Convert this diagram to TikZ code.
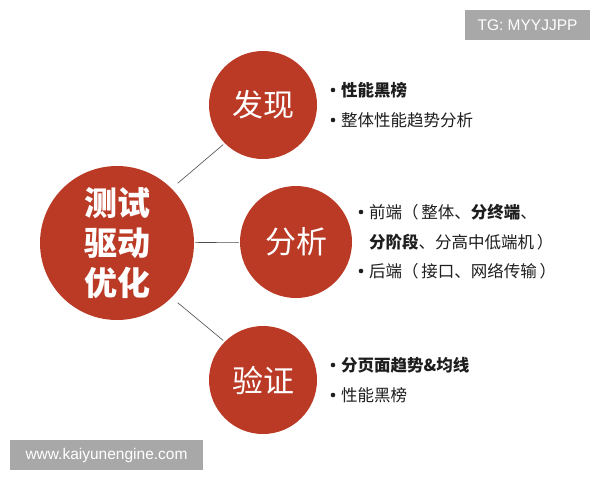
\documentclass[tikz,border=0pt]{standalone}
\usepackage{fontspec}
\setmainfont{Liberation Sans}
\newfontfamily\cjk{Noto Sans CJK SC}
\definecolor{brick}{RGB}{186,58,38}
\definecolor{wmgray}{RGB}{168,168,168}
\definecolor{txt}{RGB}{30,30,30}
\begin{document}
\begin{tikzpicture}[x=1pt,y=-1pt,
  bigc/.style={circle,fill=brick,inner sep=0pt,minimum size=154pt,text=white,font=\cjk\bfseries\fontsize{33}{40}\selectfont,align=center},
  smallc/.style={circle,fill=brick,inner sep=0pt,minimum size=108pt,text=white,font=\cjk\fontsize{31}{36}\selectfont},
  link/.style={draw=black!70,line width=0.6pt},
  item/.style={anchor=west,inner sep=0pt,text=txt,font=\cjk\fontsize{16.5}{30}\selectfont},
  dot/.style={circle,fill=txt,inner sep=0pt,minimum size=4.6pt},
  wm/.style={fill=wmgray,text=white,inner sep=0pt,font=\fontsize{15.5}{18}\selectfont}
]
\useasboundingbox (0,0) rectangle (600,480);
\fill[white] (0,0) rectangle (600,480);

\node[bigc] (core) at (117,243) {测试\\驱动\\优化};
\node[smallc] (find) at (263,105) {发现};
\node[smallc,minimum size=112pt] (anal) at (296,242) {分析};
\node[smallc] (verify) at (263,380) {验证};

\draw[link,shorten <=8pt,shorten >=2pt] (core.45) -- (find.225);
\draw[link,shorten <=1pt,shorten >=1pt] (core) -- (anal);
\draw[link,shorten <=8pt,shorten >=2pt] (core.-45) -- (verify.135);

% 发现 items
\node[dot] (d1) at (333,90) {};
\node[item] (t1) at (341,90) {\bfseries 性能黑榜};
\node[dot] (d2) at (333,120) {};
\node[item] (t2) at (341,120) {整体性能趋势分析};

% 分析 items
\node[dot] (d3) at (361,212) {};
\node[item] (t3) at (369,212) {前端（\,整体、\textbf{分终端}、};
\node[item] (t4) at (369,242) {\textbf{分阶段}、分高中低端机\,）};
\node[dot] (d5) at (361,271) {};
\node[item] (t5) at (369,271) {后端（\,接口、网络传输\,）};

% 验证 items
\node[dot] (d6) at (333,365) {};
\node[item] (t6) at (341,365) {\bfseries 分页面趋势\&均线};
\node[dot] (d7) at (333,395) {};
\node[item] (t7) at (341,395) {性能黑榜};

% watermarks
\node[wm,minimum width=125pt,minimum height=30pt] (tg) at (527.5,25) {TG: MYYJJPP};
\node[wm,minimum width=193pt,minimum height=30pt] (www) at (106.5,455) {www.kaiyunengine.com};
\end{tikzpicture}
\end{document}
